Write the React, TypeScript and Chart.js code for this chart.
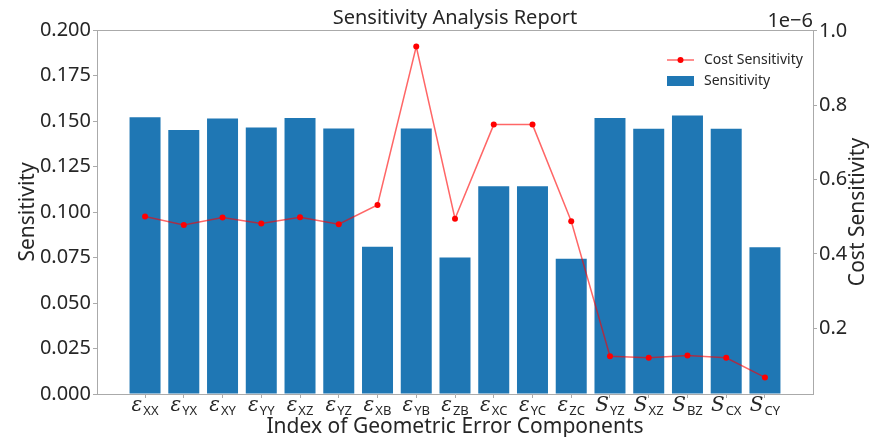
import React, { useEffect, useRef } from 'react';
import { Chart, registerables } from 'chart.js';

Chart.register(...registerables);

// ---- data ----
const categories = [
  'ε_XX', 'ε_YX', 'ε_XY', 'ε_YY', 'ε_XZ', 'ε_YZ', 'ε_XB', 'ε_YB', 'ε_ZB',
  'ε_XC', 'ε_YC', 'ε_ZC', 'S_YZ', 'S_XZ', 'S_BZ', 'S_CX', 'S_CY',
];
const sensitivity = [
  0.152, 0.145, 0.1514, 0.1464, 0.1516, 0.1459, 0.0809, 0.1459, 0.075,
  0.1141, 0.1141, 0.0743, 0.1516, 0.1457, 0.153, 0.1457, 0.0806,
];
// Cost sensitivity, in units of 1e-6
const costSensitivity = [
  0.501, 0.478, 0.498, 0.482, 0.499, 0.48, 0.532, 0.958, 0.495,
  0.748, 0.748, 0.488, 0.125, 0.121, 0.127, 0.121, 0.068,
];
const leftTicks = [0, 0.025, 0.05, 0.075, 0.1, 0.125, 0.15, 0.175, 0.2];
const rightTicks = [0.2, 0.4, 0.6, 0.8, 1.0];
const titleText = 'Sensitivity Analysis Report';
const xTitle = 'Index of Geometric Error Components';
const yTitle = 'Sensitivity';
const y1Title = 'Cost Sensitivity';
const offsetText = '1e\u22126';
const legendLine = 'Cost Sensitivity';
const legendBar = 'Sensitivity';

const FONT = '"Noto Sans", "Open Sans", sans-serif';
const TEXT = '#262626';
const SPINE = '#aaaaaa';
const BAR = '#1f77b4';

const decorPlugin = {
  id: 'decor',
  afterDraw(chart: any) {
    const ctx = chart.ctx as CanvasRenderingContext2D;
    const { left, right, top, bottom } = chart.chartArea;
    const cx = (left + right) / 2;
    const cy = (top + bottom) / 2;
    ctx.save();

    // top spine
    ctx.strokeStyle = SPINE;
    ctx.lineWidth = 1;
    ctx.beginPath();
    ctx.moveTo(left, Math.round(top) + 0.5);
    ctx.lineTo(right, Math.round(top) + 0.5);
    ctx.stroke();

    ctx.fillStyle = TEXT;
    // title
    ctx.font = `20px ${FONT}`;
    ctx.textAlign = 'center';
    ctx.textBaseline = 'alphabetic';
    ctx.fillText(titleText, cx, top - 6);

    // x title
    ctx.font = `21px ${FONT}`;
    ctx.fillText(xTitle, cx, 433);

    // y titles
    ctx.save();
    ctx.translate(28, cy);
    ctx.rotate(-Math.PI / 2);
    ctx.textBaseline = 'middle';
    ctx.font = `21px ${FONT}`;
    ctx.fillText(yTitle, 0, 0);
    ctx.restore();

    ctx.save();
    ctx.translate(858, cy);
    ctx.rotate(-Math.PI / 2);
    ctx.textBaseline = 'middle';
    ctx.font = `21px ${FONT}`;
    ctx.fillText(y1Title, 0, 0);
    ctx.restore();

    // offset text
    ctx.font = `20px ${FONT}`;
    ctx.textAlign = 'right';
    ctx.fillText(offsetText, right, top - 3);

    // x tick labels (math style with subscripts)
    const xs = chart.scales.x;
    categories.forEach((lab, i) => {
      const [main, sub] = lab.split('_');
      const x = xs.getPixelForValue(i);
      const mainFont = `italic 20px "DejaVu Serif", "Liberation Serif", serif`;
      const subFont = `13px ${FONT}`;
      ctx.font = mainFont;
      const wm = ctx.measureText(main).width;
      ctx.font = subFont;
      const ws = ctx.measureText(sub).width;
      const start = x - (wm + ws + 1) / 2;
      ctx.textAlign = 'left';
      ctx.font = mainFont;
      ctx.fillText(main, start, bottom + 17);
      ctx.font = subFont;
      ctx.fillText(sub, start + wm + 1, bottom + 21);
    });

    // legend
    const lx = right - 146;
    ctx.strokeStyle = 'rgba(255,0,0,0.6)';
    ctx.lineWidth = 1.5;
    ctx.beginPath();
    ctx.moveTo(lx, 60);
    ctx.lineTo(lx + 27, 60);
    ctx.stroke();
    ctx.fillStyle = 'red';
    ctx.beginPath();
    ctx.arc(lx + 13.5, 60, 3, 0, Math.PI * 2);
    ctx.fill();
    ctx.fillStyle = BAR;
    ctx.fillRect(lx, 76, 27, 10);
    ctx.fillStyle = TEXT;
    ctx.font = `14px ${FONT}`;
    ctx.textAlign = 'left';
    ctx.textBaseline = 'middle';
    ctx.fillText(legendLine, lx + 37, 60);
    ctx.fillText(legendBar, lx + 37, 81);

    ctx.restore();
  },
};

export default function App() {
  const ref = useRef<HTMLCanvasElement>(null);
  useEffect(() => {
    const canvas = ref.current;
    if (!canvas) return;
    const grid = {
      display: true,
      drawOnChartArea: false,
      drawTicks: true,
      tickLength: 4,
      color: SPINE,
      offset: false,
    };
    const border = { display: true, color: SPINE, width: 1 };
    const chart = new Chart(canvas, {
      type: 'bar',
      data: {
        datasets: [
          {
            type: 'line',
            label: legendLine,
            data: costSensitivity.map((v, i) => ({ x: i, y: v })),
            borderColor: 'rgba(255,0,0,0.6)',
            borderWidth: 1.5,
            pointRadius: 3,
            pointBackgroundColor: 'red',
            pointBorderWidth: 0,
            xAxisID: 'x',
            yAxisID: 'y1',
            order: 1,
          } as any,
          {
            type: 'bar',
            label: legendBar,
            data: sensitivity.map((v, i) => ({ x: i, y: v })),
            backgroundColor: BAR,
            categoryPercentage: 1,
            barPercentage: 0.8,
            xAxisID: 'x',
            yAxisID: 'y',
            order: 2,
          } as any,
        ],
      },
      options: {
        animation: false,
        responsive: false,
        devicePixelRatio: 1,
        layout: { padding: { top: 30, left: 0, right: 0, bottom: 0 } },
        plugins: {
          legend: { display: false },
          tooltip: { enabled: false },
          title: { display: false },
        },
        scales: {
          x: {
            type: 'linear',
            min: -1.24,
            max: 17.24,
            offset: false,
            afterBuildTicks: (s: any) => {
              s.ticks = categories.map((_, i) => ({ value: i }));
            },
            ticks: { autoSkip: false, callback: () => '', font: { size: 12 } },
            grid,
            border,
            afterFit: (s: any) => {
              s.height = 43;
            },
          },
          y: {
            type: 'linear',
            position: 'left',
            min: 0,
            max: 0.2,
            afterBuildTicks: (s: any) => {
              s.ticks = leftTicks.map((v) => ({ value: v }));
            },
            ticks: {
              callback: (v: any) => Number(v).toFixed(3),
              font: { size: 20, family: FONT },
              color: TEXT,
              padding: 2,
            },
            grid,
            border,
            afterFit: (s: any) => {
              s.width = 97;
            },
          },
          y1: {
            type: 'linear',
            position: 'right',
            min: 0.0234,
            max: 1.0025,
            afterBuildTicks: (s: any) => {
              s.ticks = rightTicks.map((v) => ({ value: v }));
            },
            ticks: {
              callback: (v: any) => Number(v).toFixed(1),
              font: { size: 20, family: FONT },
              color: TEXT,
              padding: 2,
            },
            grid,
            border,
            afterFit: (s: any) => {
              s.width = 65;
            },
          },
        },
      } as any,
      plugins: [decorPlugin],
    });
    return () => chart.destroy();
  }, []);
  return (
    <div style={{ position: 'absolute', left: 0, top: 0, width: 878, height: 437, background: '#fff' }}>
      <canvas ref={ref} width={878} height={437} />
    </div>
  );
}
